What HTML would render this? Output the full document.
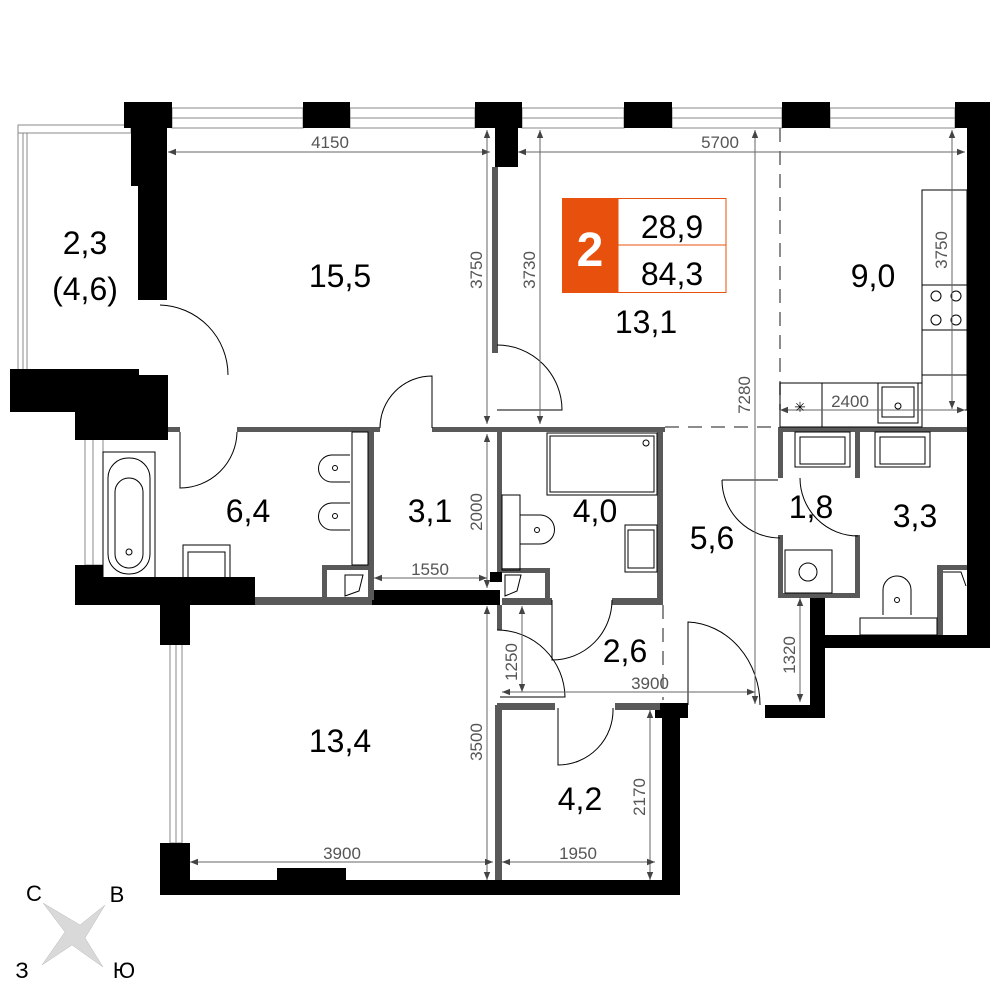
<!DOCTYPE html>
<html><head><meta charset="utf-8"><style>
html,body{margin:0;padding:0;background:#fff}
svg{display:block}
.lb{font-family:"Liberation Sans","DejaVu Sans",sans-serif;font-size:32px;fill:#000;text-anchor:middle}
.dm{font-family:"Liberation Sans",sans-serif;font-size:17px;fill:#555;text-anchor:middle}
</style></head><body>
<svg width="1000" height="1000" viewBox="0 0 1000 1000" xmlns="http://www.w3.org/2000/svg">
<defs>
<marker id="a" viewBox="0 0 10 10" refX="10" refY="5" markerWidth="8" markerHeight="8" orient="auto-start-reverse"><path d="M0,1 L10,5 L0,9 z" fill="#444"/></marker>
</defs>
<g stroke="#888" stroke-width="1" fill="none">
<rect x="172" y="108" width="131" height="20"/><line x1="172" y1="118" x2="303" y2="118"/>
<rect x="350" y="108" width="125" height="20"/><line x1="350" y1="118" x2="475" y2="118"/>
<rect x="522" y="108" width="102" height="20"/><line x1="522" y1="118" x2="624" y2="118"/>
<rect x="672" y="108" width="110" height="20"/><line x1="672" y1="118" x2="782" y2="118"/>
<rect x="830" y="108" width="125" height="20"/><line x1="830" y1="118" x2="955" y2="118"/>
<rect x="18" y="125" width="113" height="8"/>
<rect x="18" y="133" width="9" height="237"/><line x1="23" y1="133" x2="23" y2="370"/>
<rect x="85" y="432" width="18" height="133"/><line x1="93" y1="432" x2="93" y2="565"/>
<rect x="170" y="643" width="12" height="200"/><line x1="176" y1="643" x2="176" y2="843"/>
</g>
<g fill="#000">
<rect x="124" y="102" width="48" height="26"/>
<rect x="138" y="128" width="29" height="172"/>
<rect x="131" y="128" width="8" height="58"/>
<rect x="303" y="102" width="47" height="26"/>
<rect x="475" y="102" width="47" height="26"/>
<rect x="495" y="128" width="23" height="39"/>
<rect x="624" y="102" width="48" height="26"/>
<rect x="782" y="102" width="48" height="26"/>
<rect x="955" y="102" width="35" height="26"/>
<rect x="967" y="128" width="23" height="520"/>
<rect x="825" y="635" width="165" height="13"/>
<rect x="810" y="593" width="15" height="125"/>
<rect x="765" y="705" width="57" height="13"/>
<rect x="139" y="375" width="29" height="57"/>
<rect x="10" y="369" width="129" height="43"/>
<rect x="75" y="412" width="93" height="28"/>
<rect x="75" y="565" width="28" height="40"/>
<rect x="75" y="577" width="180" height="28"/>
<rect x="160" y="605" width="30" height="40"/>
<rect x="372" y="590" width="128" height="15"/>
<rect x="160" y="843" width="30" height="52"/>
<rect x="160" y="880" width="520" height="15"/>
<rect x="277" y="868" width="69" height="14"/>
<rect x="662" y="705" width="18" height="190"/>
<rect x="655" y="703" width="33" height="15"/>
<rect x="490" y="572" width="12" height="10"/>
</g>
<g fill="#595959">
<rect x="168" y="427" width="12" height="5"/>
<rect x="237" y="427" width="143" height="5"/>
<rect x="432" y="427" width="233" height="5"/>
<rect x="778" y="427" width="189" height="5"/>
<rect x="492" y="167" width="6" height="186"/>
<rect x="368" y="432" width="6" height="168"/>
<rect x="255" y="597" width="117" height="8"/>
<rect x="497" y="432" width="5" height="140"/>
<rect x="657" y="432" width="6" height="173"/>
<rect x="502" y="598" width="50" height="7"/>
<rect x="612" y="598" width="50" height="7"/>
<rect x="497" y="605" width="5" height="25"/>
<rect x="497" y="703" width="58" height="7"/>
<rect x="615" y="703" width="45" height="7"/>
<rect x="495" y="705" width="7" height="175"/>
<rect x="778" y="432" width="5" height="46"/>
<rect x="778" y="535" width="5" height="63"/>
<rect x="855" y="432" width="5" height="46"/>
<rect x="855" y="535" width="5" height="63"/>
<rect x="778" y="593" width="82" height="5"/>
<rect x="937" y="568" width="6" height="67"/>
<rect x="937" y="565" width="30" height="5"/>
<rect x="322" y="565" width="5" height="35"/><rect x="322" y="565" width="46" height="5"/>
<rect x="545" y="568" width="5" height="32"/><rect x="502" y="568" width="48" height="5"/>
</g>
<g stroke="#666" stroke-width="1.5" stroke-dasharray="14,9" fill="none">
<line x1="780" y1="128" x2="780" y2="410"/>
<line x1="665" y1="427" x2="778" y2="427"/>
<line x1="663" y1="605" x2="663" y2="700"/>
</g>
<g stroke="#000" stroke-width="1" fill="none">
<rect x="103" y="452" width="52" height="128"/>
<rect x="108" y="458" width="42" height="116" rx="20"/>
<rect x="115" y="478" width="28" height="90" rx="14"/>
<circle cx="129" cy="552" r="3"/>
<rect x="183" y="545" width="47" height="35"/><rect x="188" y="552" width="37" height="28"/>
<rect x="352" y="432" width="16" height="133"/>
<path d="M350,455 h-18 a13,13 0 0 0 0,27 h18"/><circle cx="335" cy="468" r="2.5"/>
<path d="M350,503 h-18 a13,13 0 0 0 0,27 h18"/><circle cx="335" cy="516" r="2.5"/>
<path d="M345,575 h18 l-4,16 -14,5 z"/>
<rect x="547" y="433" width="110" height="62"/><rect x="550" y="436" width="104" height="56"/><circle cx="646" cy="443" r="3"/>
<rect x="502" y="495" width="18" height="75"/>
<path d="M520,515 h20 a14,14 0 0 1 0,29 h-20"/><circle cx="537" cy="530" r="2.5"/>
<rect x="625" y="525" width="32" height="47"/><rect x="628" y="530" width="26" height="38"/>
<path d="M505,575 h16 l-4,16 -12,5 z"/>
<rect x="922" y="190" width="45" height="220"/>
<line x1="922" y1="285" x2="967" y2="285"/><line x1="922" y1="330" x2="967" y2="330"/><line x1="922" y1="375" x2="967" y2="375"/>
<circle cx="936" cy="296" r="5"/><circle cx="956" cy="296" r="5"/><circle cx="936" cy="320" r="5"/><circle cx="956" cy="320" r="5"/>
<rect x="780" y="383" width="142" height="44"/><line x1="822" y1="383" x2="822" y2="427"/>
<rect x="878" y="383" width="40" height="40"/><rect x="882" y="387" width="32" height="30"/><circle cx="898" cy="406" r="3"/>
<rect x="795" y="432" width="55" height="35"/><rect x="800" y="437" width="45" height="27"/>
<rect x="875" y="432" width="55" height="35"/><rect x="880" y="437" width="45" height="27"/>
<rect x="785" y="550" width="47" height="43"/><circle cx="808" cy="572" r="9"/>
<path d="M883,615 v-25 a14,14 0 0 1 28,0 v25"/><circle cx="897" cy="600" r="2.5"/>
<rect x="860" y="618" width="77" height="17"/>
<path d="M943,572 h18 l5,14"/>
</g>
<g stroke="#000" stroke-width="1" fill="none">
<path d="M160,305 A70,70 0 0 1 228,375"/>
<path d="M432,428 V376 A52,52 0 0 0 380,428"/>
<path d="M180,432 V488 A57,57 0 0 0 237,432"/>
<path d="M497,410 H562 A65,65 0 0 0 497,345"/>
<path d="M722,480 H778 M722,480 A58,58 0 0 0 780,538"/>
<path d="M800,478 A58,58 0 0 0 858,536"/>
<path d="M552,600 V660 A60,60 0 0 0 612,600"/>
<path d="M497,630 A68,68 0 0 1 565,697 H500"/>
<path d="M558,708 V765 A55,55 0 0 0 613,708"/>
<path d="M688,705 V622 A75,83 0 0 1 760,705"/>
</g>
<g stroke="#666" stroke-width="1" fill="none" marker-start="url(#a)" marker-end="url(#a)">
<line x1="168" y1="152" x2="490" y2="152"/>
<line x1="487" y1="130" x2="487" y2="424"/>
<line x1="540" y1="130" x2="540" y2="424"/>
<line x1="518" y1="152" x2="965" y2="152"/>
<line x1="755" y1="130" x2="755" y2="704"/>
<line x1="952" y1="130" x2="952" y2="409"/>
<line x1="780" y1="410" x2="965" y2="410"/>
<line x1="487" y1="434" x2="487" y2="588"/>
<line x1="374" y1="578" x2="487" y2="578"/>
<line x1="522" y1="606" x2="522" y2="692"/>
<line x1="502" y1="692" x2="755" y2="692"/>
<line x1="800" y1="598" x2="800" y2="702"/>
<line x1="487" y1="606" x2="487" y2="880"/>
<line x1="650" y1="710" x2="650" y2="880"/>
<line x1="190" y1="862" x2="493" y2="862"/>
<line x1="502" y1="862" x2="655" y2="862"/>
</g>
<g class="dm">
<text x="330" y="148">4150</text>
<text x="720" y="148">5700</text>
<text x="850" y="407">2400</text>
<text x="430" y="575">1550</text>
<text x="650" y="689">3900</text>
<text x="342" y="859">3900</text>
<text x="578" y="859">1950</text>
<text transform="translate(482,270) rotate(-90)">3750</text>
<text transform="translate(535,270) rotate(-90)">3730</text>
<text transform="translate(947,250) rotate(-90)">3750</text>
<text transform="translate(750,395) rotate(-90)">7280</text>
<text transform="translate(482,512) rotate(-90)">2000</text>
<text transform="translate(517,662) rotate(-90)">1250</text>
<text transform="translate(795,655) rotate(-90)">1320</text>
<text transform="translate(482,742) rotate(-90)">3500</text>
<text transform="translate(645,797) rotate(-90)">2170</text>
<text x="800" y="412" style="font-size:14px;fill:#000">✳</text>
</g>
<g class="lb">
<text x="85" y="254">2,3</text>
<text x="85" y="300">(4,6)</text>
<text x="340" y="287">15,5</text>
<text x="646" y="333">13,1</text>
<text x="873" y="287">9,0</text>
<text x="248" y="522">6,4</text>
<text x="430" y="522">3,1</text>
<text x="595" y="522">4,0</text>
<text x="712" y="549">5,6</text>
<text x="811" y="518">1,8</text>
<text x="915" y="527">3,3</text>
<text x="625" y="662">2,6</text>
<text x="340" y="752">13,4</text>
<text x="580" y="810">4,2</text>
</g>
<rect x="562" y="198" width="56" height="95" fill="#e8500e"/>
<rect x="618" y="198.5" width="108" height="94" fill="none" stroke="#e8500e" stroke-width="1"/>
<line x1="618" y1="245" x2="726" y2="245" stroke="#e8500e" stroke-width="1"/>
<text x="590" y="266" style="font-family:'Liberation Sans',sans-serif;font-weight:bold;font-size:48px;fill:#fff;text-anchor:middle">2</text>
<text x="672" y="238" class="lb">28,9</text>
<text x="672" y="285" class="lb">84,3</text>
<path d="M43,903 L80,925 L105,905 L85,938 L103,967 L72,945 L42,965 L65,932 z" fill="#d9d9d9" stroke="#bbb" stroke-width="0.5"/>
<g style="font-family:'Liberation Sans',sans-serif;font-size:22px;fill:#000;text-anchor:middle">
<text x="34" y="901">С</text>
<text x="117" y="902">В</text>
<text x="22" y="978">З</text>
<text x="124" y="978">Ю</text>
</g>
</svg>
</body></html>
